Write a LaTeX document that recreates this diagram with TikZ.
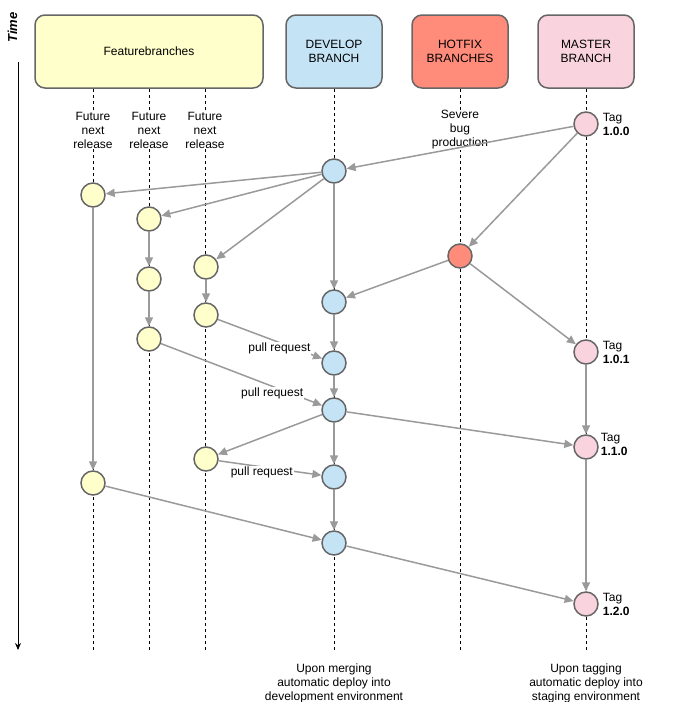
\documentclass[tikz,border=0pt]{standalone}
\usepackage{fontspec}
\setmainfont{Liberation Sans}
\usetikzlibrary{arrows.meta}
\definecolor{featfill}{HTML}{FFFFCC}
\definecolor{devfill}{HTML}{C4E4F6}
\definecolor{hotfill}{HTML}{FF8B7B}
\definecolor{mastfill}{HTML}{F9D4DE}
\definecolor{bordergray}{HTML}{666666}
\definecolor{arrowgray}{HTML}{9A9A9A}
\begin{document}
\begin{tikzpicture}[x=1pt,y=-1pt,
  header/.style={draw=bordergray, line width=1.5pt, rounded corners=10pt,
    minimum height=73pt, align=center, inner sep=0pt,
    font=\fontsize{12}{14}\selectfont},
  commit/.style={circle, draw=bordergray, line width=1.5pt, minimum size=24pt, inner sep=0pt},
  lane/.style={black, line width=0.8pt, dash pattern=on 3pt off 3pt},
  flow/.style={draw=arrowgray, line width=1.5pt, -{Triangle[length=9pt,width=8pt]}},
  lbl/.style={align=center, inner sep=1pt, font=\fontsize{12}{14}\selectfont},
  lanelbl/.style={lbl, fill=white},
  prlbl/.style={fill=white, inner sep=1pt, font=\fontsize{12}{14}\selectfont},
  taglbl/.style={align=left, anchor=west, inner sep=0pt, xshift=4pt, font=\fontsize{12}{14}\selectfont}
]
\useasboundingbox (0,0) rectangle (674,702);

% time axis
\node[rotate=90, font=\fontsize{13}{15}\selectfont\bfseries\itshape] (timelbl) at (12.5,27.5) {Time};
\coordinate (ttop) at (18,62);
\coordinate (tbot) at (18,650);
\draw[black, line width=1pt, -{Stealth[length=7pt,width=6pt]}] (ttop) -- (tbot);

% headers
\node[header, fill=featfill, minimum width=228pt] (feat) at (149,51.5) {Featurebranches};
\node[header, fill=devfill, minimum width=96pt] (dev) at (334,51.5) {DEVELOP\\BRANCH};
\node[header, fill=hotfill, minimum width=96pt] (hot) at (460,51.5) {HOTFIX\\BRANCHES};
\node[header, fill=mastfill, minimum width=96pt] (mast) at (586,51.5) {MASTER\\BRANCH};

\coordinate (bottom) at (0,650);
\coordinate (lx1) at (93,0);
\coordinate (lx2) at (149,0);
\coordinate (lx3) at (205,0);

% lanes
\draw[lane] (lx1 |- feat.south) -- (lx1 |- bottom);
\draw[lane] (lx2 |- feat.south) -- (lx2 |- bottom);
\draw[lane] (lx3 |- feat.south) -- (lx3 |- bottom);
\draw[lane] (dev.south) -- (dev.south |- bottom);
\draw[lane] (hot.south) -- (hot.south |- bottom);
\draw[lane] (mast.south) -- (mast.south |- bottom);

% lane labels
\node[lanelbl] (fl1) at (93,130) {Future\\next\\release};
\node[lanelbl] (fl2) at (149,130) {Future\\next\\release};
\node[lanelbl] (fl3) at (205,130) {Future\\next\\release};
\node[lanelbl] (hl) at (460,130) {Severe\\bug\\production};

% commits
\node[commit, fill=mastfill] (m1) at (586,124) {};
\node[commit, fill=mastfill] (m2) at (586,352) {};
\node[commit, fill=mastfill] (m3) at (586,447) {};
\node[commit, fill=mastfill] (m4) at (586,604) {};
\node[commit, fill=hotfill] (h1) at (460,256) {};
\node[commit, fill=devfill] (d1) at (334,171) {};
\node[commit, fill=devfill] (d2) at (334,302) {};
\node[commit, fill=devfill] (d3) at (334,363) {};
\node[commit, fill=devfill] (d4) at (334,410) {};
\node[commit, fill=devfill] (d5) at (334,477) {};
\node[commit, fill=devfill] (d6) at (334,543) {};
\node[commit, fill=featfill] (f1a) at (93,195) {};
\node[commit, fill=featfill] (f1b) at (93,483) {};
\node[commit, fill=featfill] (f2a) at (149,219) {};
\node[commit, fill=featfill] (f2b) at (149,279) {};
\node[commit, fill=featfill] (f2c) at (149,339) {};
\node[commit, fill=featfill] (f3a) at (206,267) {};
\node[commit, fill=featfill] (f3b) at (206,315) {};
\node[commit, fill=featfill] (f3c) at (206,459) {};

% connectors
\path[flow] (m1) -- (d1);
\path[flow] (m1) -- (h1);
\path[flow] (d1) -- (f1a);
\path[flow] (d1) -- (f2a);
\path[flow] (d1) -- (f3a);
\path[flow] (d1) -- (d2);
\path[flow] (h1) -- (d2);
\path[flow] (h1) -- (m2);
\path[flow] (f2a) -- (f2b);
\path[flow] (f2b) -- (f2c);
\path[flow] (f3a) -- (f3b);
\path[flow] (f3b) -- node[prlbl, pos=0.59, yshift=-6pt] (pr1) {pull request} (d3);
\path[flow] (d2) -- (d3);
\path[flow] (d3) -- (d4);
\path[flow] (f2c) -- node[prlbl, pos=0.69, yshift=-7pt] (pr2) {pull request} (d4);
\path[flow] (d4) -- (m3);
\path[flow] (d4) -- (f3c);
\path[flow] (d4) -- (d5);
\path[flow] (f3c) -- node[prlbl, pos=0.42, yshift=-6pt] (pr3) {pull request} (d5);
\path[flow] (m2) -- (m3);
\path[flow] (m3) -- (m4);
\path[flow] (f1a) -- (f1b);
\path[flow] (f1b) -- (d6);
\path[flow] (d5) -- (d6);
\path[flow] (d6) -- (m4);

% tags
\node[taglbl] (t1) at (m1.east) {Tag\\\textbf{1.0.0}};
\node[taglbl] (t2) at (m2.east) {Tag\\\textbf{1.0.1}};
\node[taglbl, xshift=-2pt, yshift=3pt] (t3) at (m3.east) {Tag\\\textbf{1.1.0}};
\node[taglbl] (t4) at (m4.east) {Tag\\\textbf{1.2.0}};

% bottom notes
\node[lbl] (n1) at (334,683) {Upon merging\\automatic deploy into\\development environment};
\node[lbl] (n2) at (586,683) {Upon tagging\\automatic deploy into\\staging environment};
\end{tikzpicture}
\end{document}
